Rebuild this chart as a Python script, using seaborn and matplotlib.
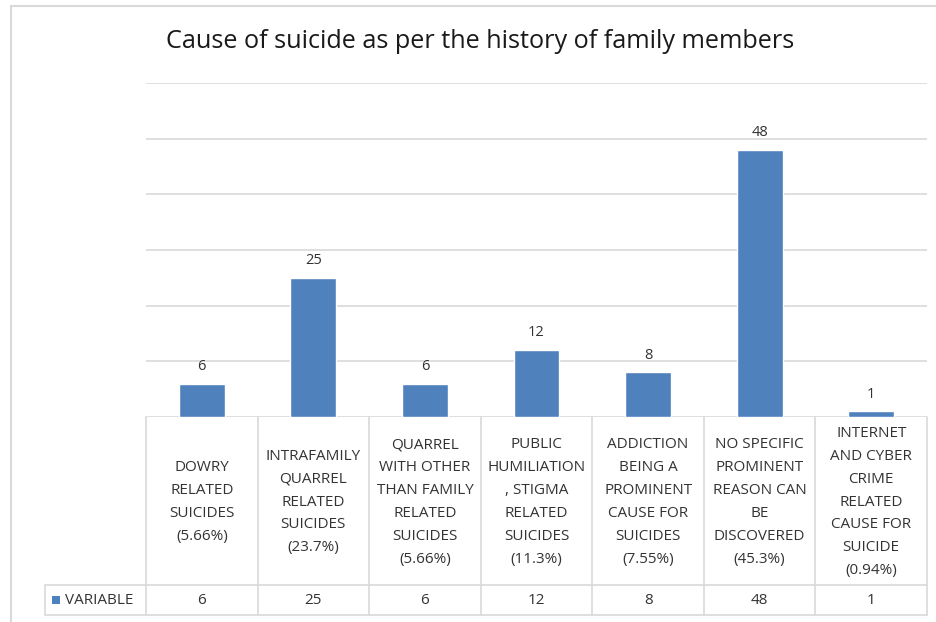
import matplotlib
matplotlib.use("Agg")
import matplotlib.pyplot as plt
from matplotlib.lines import Line2D
from matplotlib.patches import Rectangle
import seaborn as sns
import pandas as pd

# Chart data
title = "Cause of suicide as per the history of family members"
series_name = "VARIABLE"
categories = [
    "DOWRY\nRELATED\nSUICIDES\n(5.66%)",
    "INTRAFAMILY\nQUARREL\nRELATED\nSUICIDES\n(23.7%)",
    "QUARREL\nWITH OTHER\nTHAN FAMILY\nRELATED\nSUICIDES\n(5.66%)",
    "PUBLIC\nHUMILIATION\n, STIGMA\nRELATED\nSUICIDES\n(11.3%)",
    "ADDICTION\nBEING A\nPROMINENT\nCAUSE FOR\nSUICIDES\n(7.55%)",
    "NO SPECIFIC\nPROMINENT\nREASON CAN\nBE\nDISCOVERED\n(45.3%)",
    "INTERNET\nAND CYBER\nCRIME\nRELATED\nCAUSE FOR\nSUICIDE\n(0.94%)",
]
values = [6, 25, 6, 12, 8, 48, 1]
y_ticks = [0, 10, 20, 30, 40, 50, 60]

BLUE = "#4F81BD"
GRID = "#D9D9D9"
TEXT = "#333333"

sns.set_theme(style="white")
plt.rcParams["font.family"] = ["Open Sans", "DejaVu Sans"]

W, H = 937, 622
fig = plt.figure(figsize=(W / 100, H / 100), dpi=100)
fig.patch.set_facecolor("white")

def fx(px):
    return px / W

def fy(py):
    return 1 - py / H

# plot area in pixel terms
PL, PR, PT, PB = 146, 927, 83, 417
ax = fig.add_axes([fx(PL), fy(PB), fx(PR) - fx(PL), fy(PT) - fy(PB)])

df = pd.DataFrame({"cause": categories, "count": values})
sns.barplot(data=df, x="cause", y="count", color=BLUE, saturation=1,
            width=0.41, ax=ax)
ax.set_xlim(-0.5, len(categories) - 0.5)
ax.set_ylim(y_ticks[0], y_ticks[-1])
ax.set_yticks(y_ticks)
ax.set_yticklabels([])
ax.set_xticks([])
ax.set_xlabel("")
ax.set_ylabel("")
ax.tick_params(left=False, bottom=False)
for s in ax.spines.values():
    s.set_visible(False)
ax.yaxis.grid(True, color=GRID, linewidth=1.2)
ax.set_axisbelow(True)

ax.bar_label(ax.containers[0], labels=[str(v) for v in values], padding=7,
             fontsize=10.5, color=TEXT)

# chart title
fig.text(fx(480), fy(41), title, ha="center", va="center",
         fontsize=18.2, color="#1a1a1a")

# data table below the plot area
def ay(py):
    return (PB - py) / (PB - PT)

xt = ax.get_xaxis_transform()
n = len(categories)
ROW1, ROW2 = 585, 615
for i in range(n + 1):
    ax.add_line(Line2D([i - 0.5, i - 0.5], [ay(PB), ay(ROW2)], transform=xt,
                       color=GRID, lw=1.2, clip_on=False))
leg_left = (45 - PL) / (PR - PL)
at = ax.transAxes
for yy in (ROW1, ROW2):
    ax.add_line(Line2D([leg_left, 1], [ay(yy), ay(yy)], transform=at,
                       color=GRID, lw=1.2, clip_on=False))
ax.add_line(Line2D([leg_left, leg_left], [ay(ROW1), ay(ROW2)], transform=at,
                   color=GRID, lw=1.2, clip_on=False))

for i, (lab, v) in enumerate(zip(categories, values)):
    ax.text(i, ay((PB + ROW1) / 2 + 1), lab, transform=xt, ha="center",
            va="center", fontsize=11, color=TEXT, linespacing=1.72,
            clip_on=False)
    ax.text(i, ay((ROW1 + ROW2) / 2), str(v), transform=xt, ha="center",
            va="center", fontsize=11, color=TEXT, clip_on=False)

# legend key inside the table
fig.add_artist(Rectangle((fx(52), fy(604)), fx(8), 8 / H, facecolor=BLUE,
                         edgecolor="none", transform=fig.transFigure))
fig.text(fx(65), fy(600), series_name, ha="left", va="center",
         fontsize=11, color=TEXT)

# outer chart frame
fig.add_artist(Line2D([fx(11), fx(936)], [fy(6), fy(6)],
                      transform=fig.transFigure, color=GRID, lw=1.5))
fig.add_artist(Line2D([fx(11), fx(11)], [fy(6), fy(622)],
                      transform=fig.transFigure, color=GRID, lw=1.5))

fig.savefig("out.png", dpi=100, facecolor="white")
